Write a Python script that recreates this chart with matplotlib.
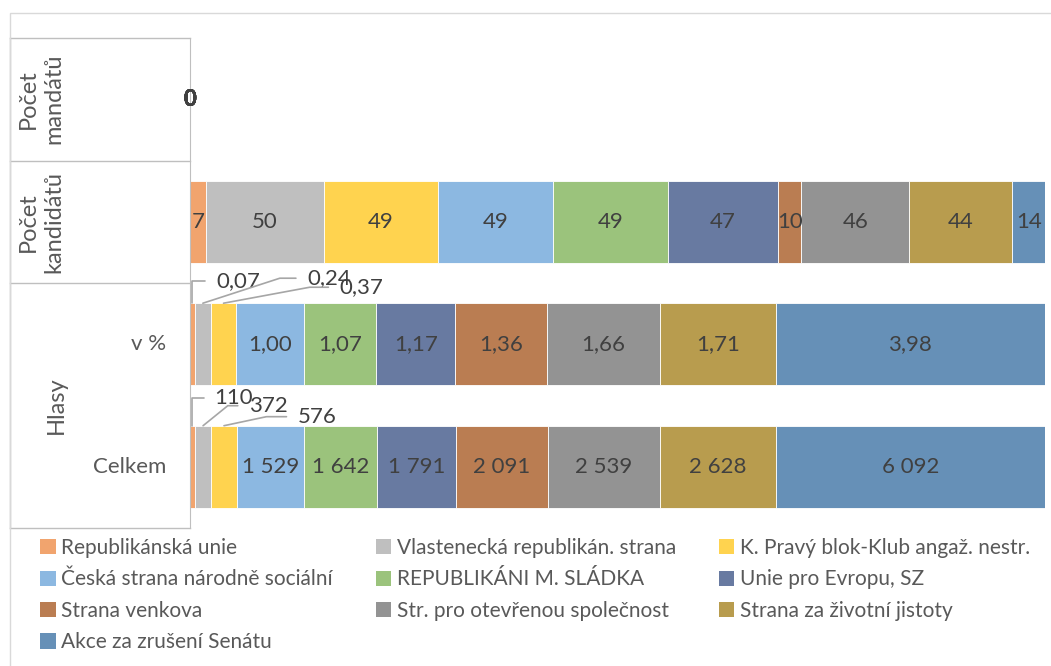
import matplotlib
matplotlib.use("Agg")
import matplotlib.pyplot as plt
import matplotlib.transforms as mtransforms
from matplotlib.patches import Rectangle, Patch
import numpy as np

plt.rcParams['font.family'] = ['Lato', 'DejaVu Sans']

# strany (poradi jako v legende)
strany = ["Republikánská unie", "Vlastenecká republikán. strana",
          "K. Pravý blok-Klub angaž. nestr.", "Česká strana národně sociální",
          "REPUBLIKÁNI M. SLÁDKA", "Unie pro Evropu, SZ", "Strana venkova",
          "Str. pro otevřenou společnost", "Strana za životní jistoty",
          "Akce za zrušení Senátu"]
barvy = ["#F1A46E", "#BFBFBF", "#FFD34F", "#8CB8E1", "#9BC37C",
         "#687AA1", "#BA7D52", "#939393", "#B89C4E", "#6690B7"]

hlasy_celkem = [110, 372, 576, 1529, 1642, 1791, 2091, 2539, 2628, 6092]
hlasy_proc = [0.07, 0.24, 0.37, 1.00, 1.07, 1.17, 1.36, 1.66, 1.71, 3.98]
kandidati = [7, 50, 49, 49, 49, 47, 10, 46, 44, 14]
mandaty = [0, 0, 0, 0, 0, 0, 0, 0, 0, 0]

# radky odspodu nahoru
radky = ["Celkem", "v %", "Počet\nkandidátů", "Počet\nmandátů"]
data = [hlasy_celkem, hlasy_proc, kandidati, mandaty]

def fmt_celkem(v):
    return "{:,}".format(v).replace(",", " ")

def fmt_proc(v):
    return "{:.2f}".format(v).replace(".", ",")

formaty = [fmt_celkem, fmt_proc, str, str]

# male hodnoty s vynasecimi carami (offset v bodech, uhel cary)
popisky_celkem = [(16, 20, 90), (33, 14.4, 39), (53, 6.5, 12)]
popisky_proc = [(17.3, 15.8, 90), (75, 18, 18), (83.5, 11.5, 10.5)]

fs = 16
txt = "#404040"
fig = plt.figure(figsize=(10.51, 6.66), dpi=100)
ax = fig.add_axes([190/1051, 1-528/666, 855/1051, 490/666])

y = np.arange(len(radky))
vys = 0.67
for r, rada in enumerate(data):
    hodn = np.array(rada, dtype=float)
    suma = hodn.sum()
    podil = hodn / suma * 100 if suma > 0 else hodn * 0
    left = np.concatenate([[0], np.cumsum(podil)[:-1]])
    for i in range(len(strany)):
        ax.barh(y[r], podil[i], left=left[i], height=vys, color=barvy[i],
                edgecolor="white", linewidth=0.6)
        stred = left[i] + podil[i] / 2
        label = formaty[r](rada[i])
        if r < 2 and i < 3:
            dx, dy, ang = (popisky_celkem if r == 0 else popisky_proc)[i]
            ax.annotate(label, xy=(stred, y[r] + vys/2), xytext=(dx, dy),
                        textcoords="offset points", ha="left", va="center",
                        fontsize=fs, color=txt,
                        arrowprops=dict(arrowstyle="-", color="#A6A6A6", lw=1.2,
                                        shrinkA=6, shrinkB=0,
                                        relpos=(0, 0.5),
                                        connectionstyle="angle,angleA=0,angleB=%g,rad=0" % ang))
        else:
            ax.text(stred, y[r], label, ha="center", va="center",
                    fontsize=fs, color=txt, fontweight="bold" if r == 3 else "normal")

ax.set_xlim(0, 100)
ax.set_ylim(-0.5, 3.5)
ax.set_xticks([])
ax.set_yticks([])
for s in ["top", "right", "bottom"]:
    ax.spines[s].set_visible(False)
ax.spines["left"].set_color("#BFBFBF")

# kategoriova osa s ramecky
tr = mtransforms.blended_transform_factory(ax.transAxes, ax.transData)
lx = -180/855
for hr in [-0.5, 1.5, 2.5, 3.5]:
    ax.plot([lx, 0], [hr, hr], color="#BFBFBF", lw=1, transform=tr, clip_on=False)
ax.plot([lx, lx], [-0.5, 3.5], color="#BFBFBF", lw=1, transform=tr, clip_on=False)

ax.annotate("v %", xy=(0, 1), xycoords=tr, xytext=(-17, 0),
            textcoords="offset points", ha="right", va="center", fontsize=fs, color="#595959")
ax.annotate("Celkem", xy=(0, 0), xycoords=tr, xytext=(-17, 0),
            textcoords="offset points", ha="right", va="center", fontsize=fs, color="#595959")
ax.annotate("Hlasy", xy=(0, 0.5), xycoords=tr, xytext=(-96, 0),
            textcoords="offset points", ha="center", va="center", rotation=90,
            fontsize=fs + 1, color="#595959")
for r in [2, 3]:
    ax.annotate(radky[r], xy=(0, y[r]), xycoords=tr, xytext=(-107, 0),
                textcoords="offset points", ha="center", va="center", rotation=90,
                multialignment="center", fontsize=fs + 1, color="#595959", linespacing=1.25)

# ramecek grafu
fig.patches.append(Rectangle((10/1051, -0.1), 1.1, 1.1 - 13/666, transform=fig.transFigure,
                             fill=False, edgecolor="#D9D9D9", lw=1))

# legenda po radcich
poradi = [0, 3, 6, 9, 1, 4, 7, 2, 5, 8]
handles = [Patch(facecolor=barvy[i]) for i in poradi]
fig.legend(handles, [strany[i] for i in poradi], ncol=3, loc="upper left",
           bbox_to_anchor=(40/1051, 1-538/666), frameon=False, fontsize=15,
           labelcolor="#595959", handlelength=0.75, handleheight=0.75,
           handletextpad=0.27, columnspacing=2.05, labelspacing=0.55,
           borderpad=0, borderaxespad=0)

fig.savefig("out.png", dpi=100)
